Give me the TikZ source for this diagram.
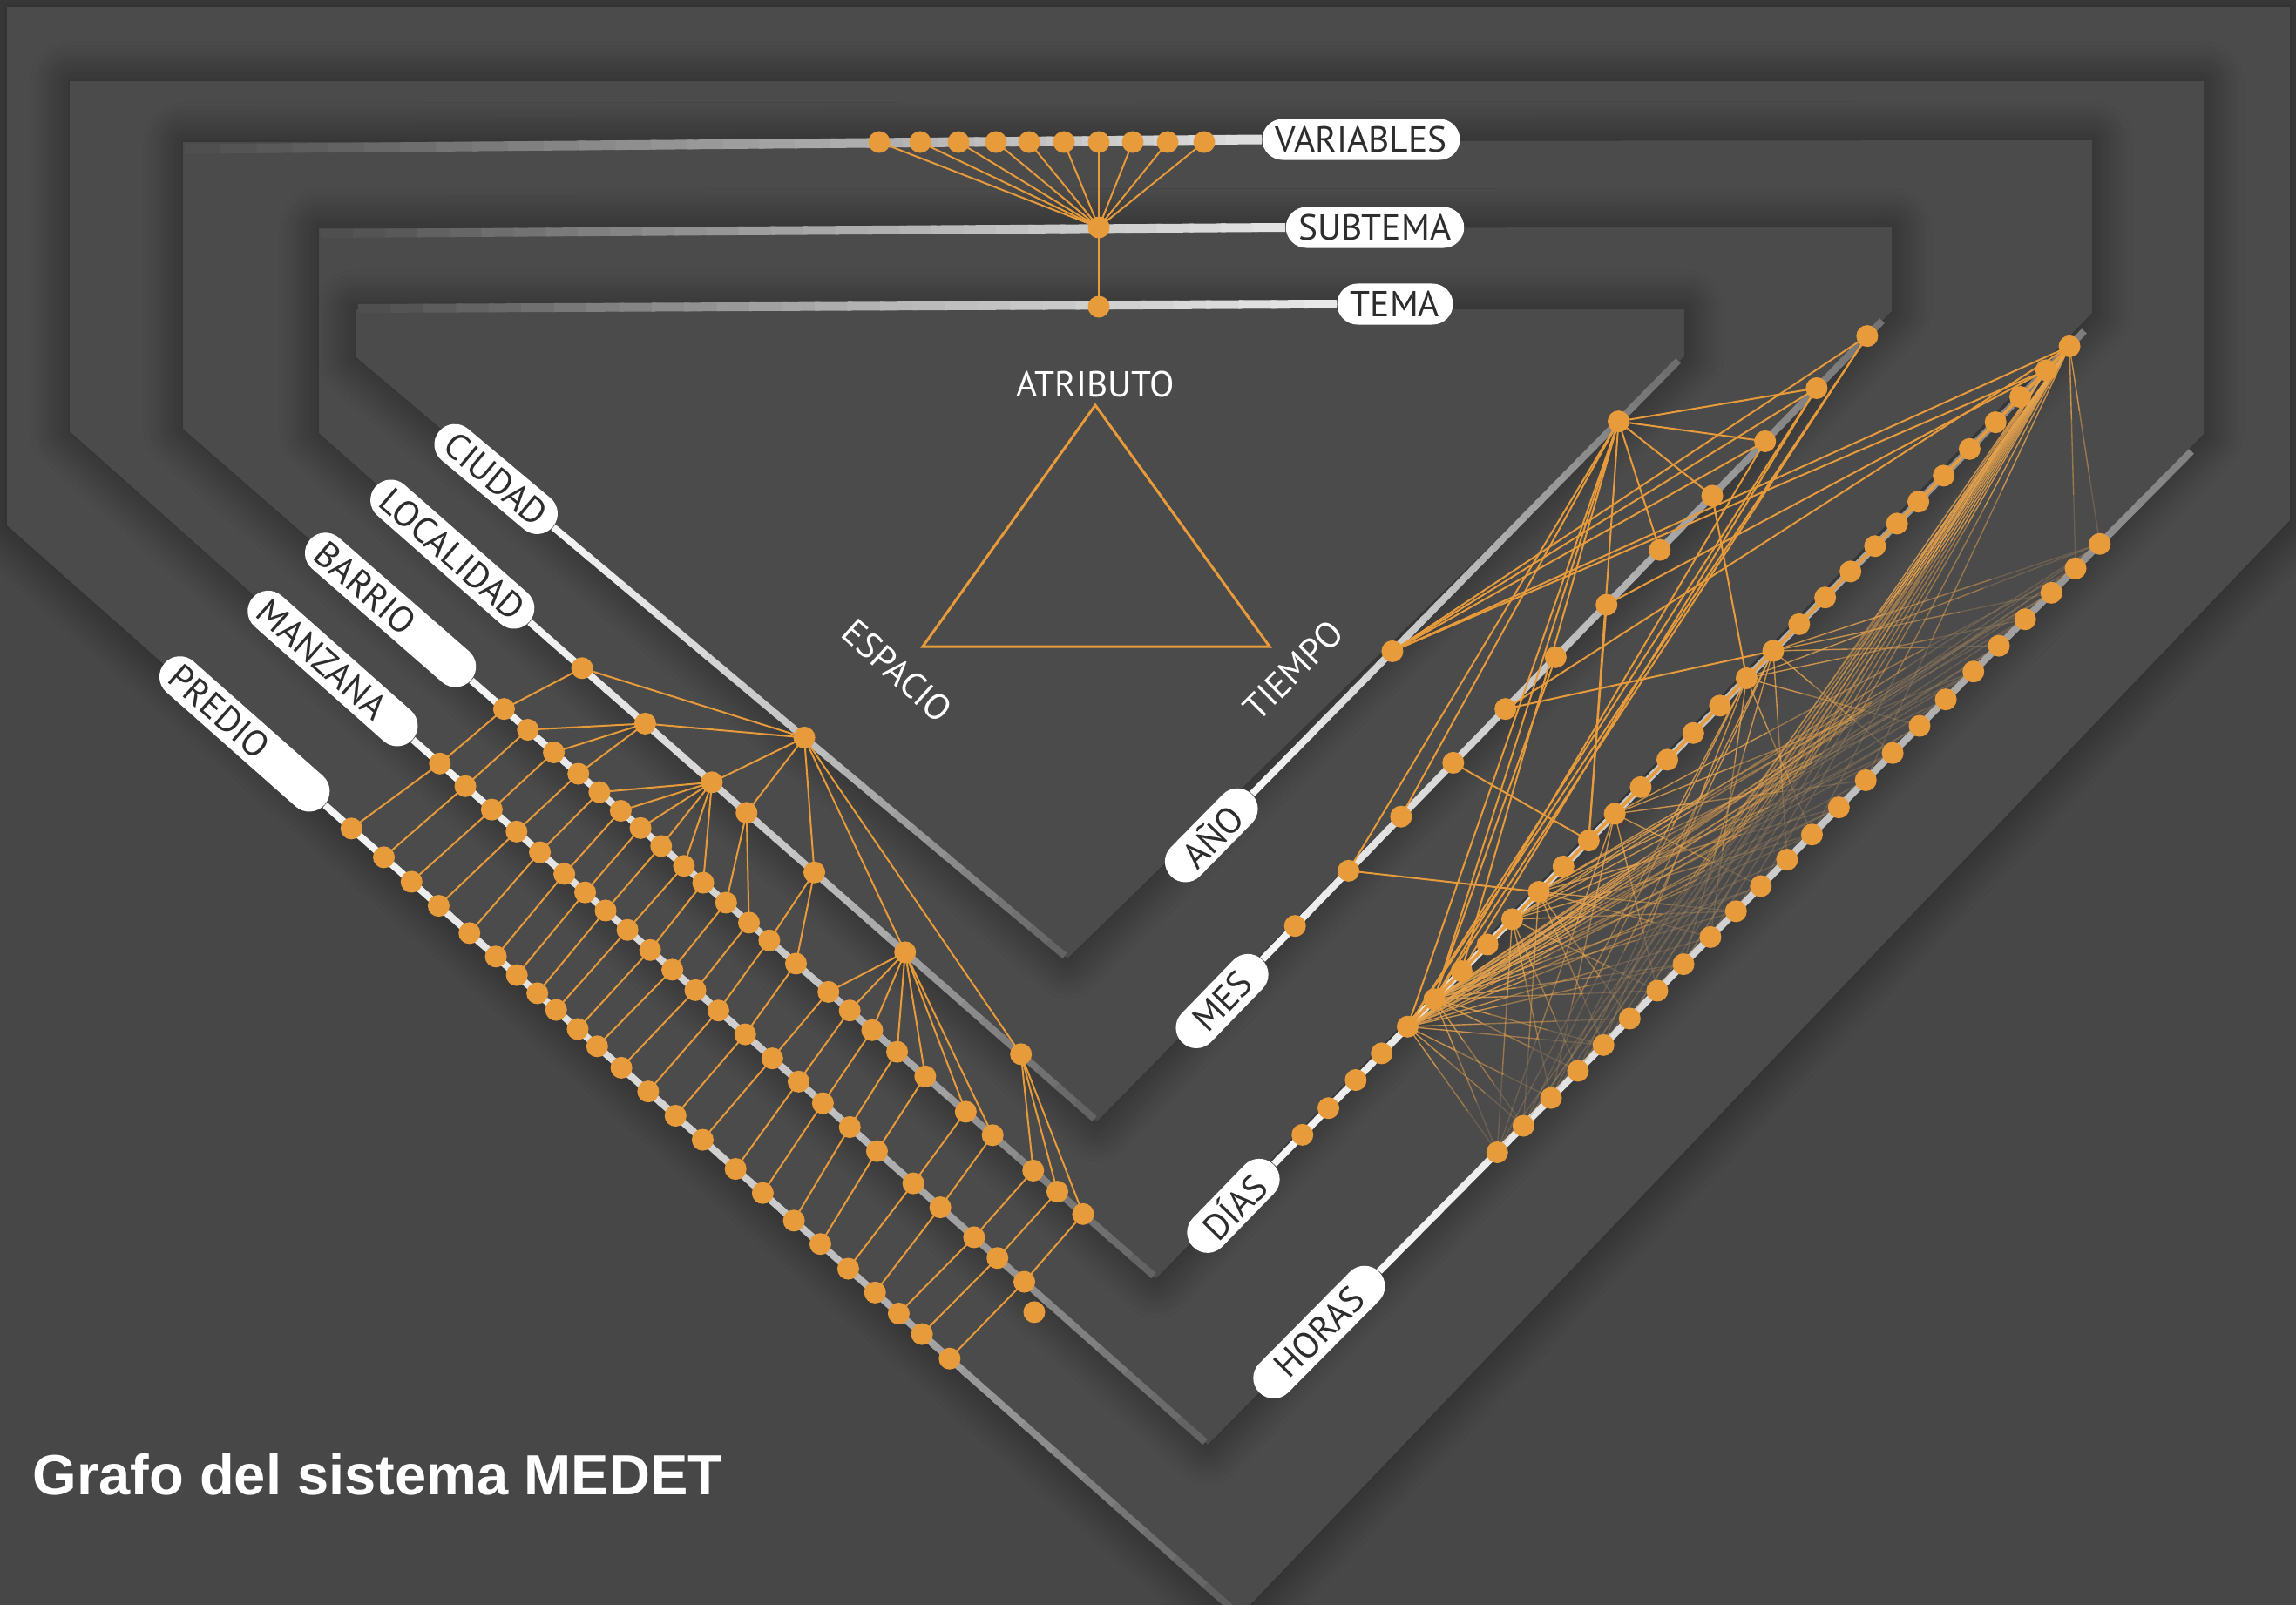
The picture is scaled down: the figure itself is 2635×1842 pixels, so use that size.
\documentclass[tikz,border=0pt]{standalone}
\usepackage{fontspec}
\setmainfont{PT Sans}
\newfontfamily\titlefont{Liberation Sans}
\usetikzlibrary{calc,shadows.blur}
\definecolor{bgc}{HTML}{474747}
\definecolor{shp}{HTML}{4B4B4B}
\definecolor{orng}{HTML}{E89B3B}
\definecolor{meshc}{HTML}{EBA64E}
\definecolor{lbl}{HTML}{2D2D2D}
\newcommand\lblfont{\fontsize{11.8}{13}\selectfont}
\newcommand\railseg[6]{%
  \foreach \k in {1,...,30}{%
    \pgfmathsetmacro\ta{(\k-1)/30}%
    \pgfmathsetmacro\tb{min(1,\k/30+0.005)}%
    \pgfmathsetmacro\tm{(\k-0.5)/30}%
    \pgfmathtruncatemacro\gg{\tm<0.5 ? #3+(#4-#3)*2*\tm : #4+(#5-#4)*(2*\tm-1)}%
    \draw[line width=#6, draw=white!\gg!black] ($(#1)!\ta!(#2)$) -- ($(#1)!\tb!(#2)$);
  }}
\newcommand\meshline[2]{%
  \draw[meshc, line width=0.014cm, opacity=0.8] (#1) -- ($(#1)!0.33!(#2)$);
  \draw[meshc, line width=0.014cm, opacity=0.5] ($(#1)!0.33!(#2)$) -- ($(#1)!0.67!(#2)$);
  \draw[meshc!60!gray, line width=0.014cm, opacity=0.28] ($(#1)!0.67!(#2)$) -- (#2);}
\begin{document}
\begin{tikzpicture}[x=0.01cm,y=-0.01cm,
  housebox/.style={fill=shp, blur shadow={shadow xshift=0pt,shadow yshift=0pt,shadow blur radius=0.45cm,shadow blur steps=12,shadow opacity=55}},
  pill/.style={fill=white, rounded corners=0.235cm, minimum height=0.47cm, inner ysep=0pt, inner xsep=0.15cm, text=lbl, font=\lblfont},
  conn/.style={draw=orng, line width=0.02cm},
  plain/.style={text=white, font=\lblfont, inner sep=0pt}]
\useasboundingbox (0,0) rectangle (2635,1842);
\fill[bgc] (0,0) rectangle (2635,1842);
% nested shapes
\path[housebox] (8,8) -- (2628,8) -- (2628,597) -- (1422,1855) -- (8,603) -- cycle;
\path[housebox] (80,93) -- (2529,93) -- (2529,498) -- (1386,1658) -- (80,495) -- cycle;
\path[housebox] (210,163) -- (2401,161) -- (2401,359) -- (1327,1467) -- (210,492) -- cycle;
\path[housebox] (366,262) -- (2171,261) -- (2171,357) -- (1259,1287) -- (366,497) -- cycle;
\path[housebox] (409,355) -- (1933,355) -- (1933,409) -- (1225,1100) -- (409,410) -- cycle;
% rail start points (pill ends) and rail end points
\coordinate (Cs) at (635,605); \coordinate (Ls) at (608,714); \coordinate (Bs) at (541,781);
\coordinate (Ms) at (474,849); \coordinate (Ps) at (373,924);
\coordinate (Ys) at (1437,911); \coordinate (Ns) at (1449,1101); \coordinate (Ds) at (1462,1336); \coordinate (Hs) at (1583,1459);
\coordinate (vr0) at (212,171); \coordinate (sr0) at (368,268); \coordinate (tr0) at (411,354);
\coordinate (Ce) at (1222,1097); \coordinate (Le) at (1256,1284); \coordinate (Be) at (1324,1464);
\coordinate (Me) at (1383,1655); \coordinate (Pe) at (1418,1850);
\coordinate (Ye) at (1926,414); \coordinate (Ne) at (2160,368); \coordinate (De) at (2392,380); \coordinate (He) at (2515,518);
% pills
\node[pill, rotate=-40.0, anchor=east] (pC) at (Cs) {CIUDAD};
\node[pill, rotate=-41.3, anchor=east] (pL) at (Ls) {LOCALIDAD};
\node[pill, rotate=-41.1, anchor=east, text width=2.15cm, align=left] (pB) at (Bs) {BARRIO};
\node[pill, rotate=-41.6, anchor=east, text width=2.15cm, align=left] (pM) at (Ms) {MANZANA};
\node[pill, rotate=-41.5, anchor=east, text width=2.15cm, align=left] (pP) at (Ps) {PREDIO};
\node[pill, rotate=45.5, anchor=east, minimum width=1.32cm] (pY) at (Ys) {AÑO};
\node[pill, rotate=45.9, anchor=east, minimum width=1.32cm] (pN) at (Ns) {MES};
\node[pill, rotate=45.8, anchor=east, minimum width=1.32cm] (pD) at (Ds) {DÍAS};
\node[pill, rotate=45.3, anchor=east, minimum width=1.95cm] (pH) at (Hs) {HORAS};
\node[pill, minimum width=2.24cm] (pV) at (1562,160) {VARIABLES};
\node[pill, minimum width=1.92cm] (pS) at (1578,261) {SUBTEMA};
\node[pill, minimum width=1.33cm] (pT) at (1601,349) {TEMA};
% rails
\railseg{vr0}{pV.west}{30}{62}{88}{0.11cm}
\railseg{sr0}{pS.west}{30}{66}{90}{0.10cm}
\railseg{tr0}{pT.west}{30}{70}{92}{0.10cm}
\railseg{Cs}{Ce}{97}{76}{38}{0.08cm}
\railseg{Ls}{Le}{97}{76}{38}{0.08cm}
\railseg{Bs}{Be}{97}{78}{38}{0.08cm}
\railseg{Ms}{Me}{97}{78}{38}{0.08cm}
\railseg{Ps}{Pe}{97}{80}{36}{0.08cm}
\railseg{Ys}{Ye}{97}{74}{42}{0.08cm}
\railseg{Ns}{Ne}{97}{76}{44}{0.08cm}
\railseg{Ds}{De}{97}{78}{48}{0.08cm}
\railseg{Hs}{He}{97}{80}{50}{0.08cm}
% top dots
\foreach \x [count=\i] in {1009,1056,1100,1143,1181,1221,1261,1300,1340,1382} \coordinate (V\i) at (\x,163);
\coordinate (ST) at (1261,261); \coordinate (TM) at (1261,352);
% left dots
\coordinate (C1) at ($(Cs)!({150+0.7653*1013},{400+0.7653*580})!(Ce)$);
\foreach \x/\y [count=\i] in {678/478,771/563,872/650,922/698,1024/787,1160/907,1338/1055}
  \coordinate (L\i) at ($(Ls)!({150+0.7653*\x},{400+0.7653*\y})!(Le)$);
\foreach \x/\y [count=\i] in {562/538,597/570,635/605,671/638,703/665,735/693,762/722,792/750,826/780,856/804,892/832,928/860,959/886,998/922,1047/964,1078/993,1113/1021,1149/1055,1192/1091,1251/1146,1288/1185,1355/1231,1390/1264,1429/1297}
  \coordinate (B\i) at ($(Bs)!({150+0.7653*\x},{400+0.7653*\y})!(Be)$);
\foreach \x/\y [count=\i] in {463/623,503/655,541/692,578/725,614/755,651/787,682/815,712/843,744/873,779/902,811/933,847/962,882/992,922/1028,960/1067,1001/1100,1037/1133,1078/1168,1118/1205,1171/1255,1215/1287,1262/1336,1299/1365,1338/1402}
  \coordinate (M\i) at ($(Ms)!({150+0.7653*\x},{400+0.7653*\y})!(Me)$);
\foreach \x/\y [count=\i] in {337/713,384/758,427/793,466/831,513/871,551/908,585/933,615/961,645/984,677/1013,707/1038,739/1075,778/1112,822/1145,861/1183,911/1226,951/1263,998/1304,1036/1341,1076/1380,1116/1416,1152/1447,1185/1480}
  \coordinate (P\i) at ($(Ps)!({150+0.7653*\x},{400+0.7653*\y})!(Pe)$);
\coordinate (Pend) at ($(Ps)!({150+0.7653*1228},{400+0.7653*1515})!(Pe)$);
\coordinate (Mx) at ({150+0.7653*1355},{400+0.7653*1445});
% right dots
\foreach \x/\y [count=\i] in {388/518,727/173}
  \coordinate (Y\i) at ($(Ys)!({1300+0.7653*\x},{350+0.7653*\y})!(Ye)$);
\foreach \x/\y [count=\i] in {240/928,320/845,400/765,477/683,557/604,632/526,709/448,789/366,868/285,948/204,1025/124,1101/46}
  \coordinate (N\i) at ($(Ns)!({1300+0.7653*\x},{350+0.7653*\y})!(Ne)$);
\foreach \x [count=\i] in {253,292,333,372,411,451,492,531,568,608,645,683,722,761,801,840,880,920,960,999,1038,1076,1113,1146,1178,1216,1255,1294,1331,1370,1405}
  \coordinate (D\i) at ($(Ds)!({1300+0.7653*\x},{350+0.7653*(1243-(\x-253)*1.0252)})!(De)$);
\foreach \x [count=\i] in {554,593,634,674,712,751,792,831,871,909,946,985,1022,1062,1102,1142,1182,1221,1262,1300,1339,1378,1414,1450}
  \coordinate (H\i) at ($(Hs)!({1300+0.7653*\x},{350+0.7653*(1278-(\x-554)*1.0268)})!(He)$);
% top connections
\foreach \i in {1,...,10} \draw[conn] (V\i) -- (ST);
\draw[conn] (ST) -- (TM);
% left connections
\foreach \i in {1,...,7} \draw[conn] (C1) -- (L\i);
\foreach \a/\b in {1/1,2/2,2/3,2/4,3/5,3/6,3/7,3/8,3/9,3/10,4/11,4/12,5/13,5/14,6/15,6/16,6/17,6/18,6/19,6/20,6/21,7/22,7/23,7/24} \draw[conn] (L\a) -- (B\b);
\foreach \i in {1,...,24} \draw[conn] (M\i) -- (B\i);
\foreach \i in {1,...,23} \draw[conn] (P\i) -- (M\i);
\draw[conn] (Pend) -- (M24);
% right mesh (faded)
\foreach \h/\js in {D5/{1,2,3,5,6,8,9,11,12,14,15,17,18,20,21,23,24},D6/{1,2,4,5,7,8,10,11,13,14,16,17,19,20,22,23},D9/{1,3,4,7,10,13,16,19,22,24},D10/{2,5,6,9,10,14,18,21,22},D13/{1,3,7,11,15,19,23},D18/{1,2,5,9,13,17,21,24},D19/{3,4,8,12,16,20,22,24}}
  \foreach \j in \js {\meshline{\h}{H\j}}
\foreach \j in {1,2,3,4,5,6,7,8,9,10,11,13,15,23,24} {\meshline{D31}{H\j}}
\foreach \j in {2,4,6,8} {\meshline{D30}{H\j}}
\meshline{D18}{D5}\meshline{D19}{D6}\meshline{D19}{D10}\meshline{D18}{D9}
% right strong connections
\foreach \a/\b in {Y1/N10,Y1/N11,Y1/N12,Y1/D30,Y1/D31,Y2/N8,Y2/N9,Y2/N10,Y2/N11,Y2/N2,Y2/N3,Y2/D5,Y2/D6,Y2/D7,Y2/D12,N2/D10,N4/D12,N5/D19,N5/D31,N6/D6,N7/D30,N7/D12,N9/D18,N10/D6,N11/D5,N11/D7,N12/D5,N12/D6,D31/D9,D31/D10,D31/D13,D30/D5,D29/D5,D31/D7}
  \draw[conn] (\a) -- (\b);
\draw[orng, line width=0.035cm] (D31) -- (D5);
\draw[orng, line width=0.03cm] (D31) -- (D6);
\draw[orng, line width=0.025cm] (D30) -- (D6);
% dots
\foreach \n in {C1,Mx,ST,TM,Pend} \fill[orng] (\n) circle[radius=0.125cm];
\foreach \i in {1,...,10} \fill[orng] (V\i) circle[radius=0.125cm];
\foreach \i in {1,...,7} \fill[orng] (L\i) circle[radius=0.125cm];
\foreach \i in {1,...,24} {\fill[orng] (B\i) circle[radius=0.125cm]; \fill[orng] (M\i) circle[radius=0.125cm]; \fill[orng] (H\i) circle[radius=0.125cm];}
\foreach \i in {1,...,23} \fill[orng] (P\i) circle[radius=0.125cm];
\foreach \i in {1,2} \fill[orng] (Y\i) circle[radius=0.125cm];
\foreach \i in {1,...,12} \fill[orng] (N\i) circle[radius=0.125cm];
\foreach \i in {1,...,31} \fill[orng] (D\i) circle[radius=0.125cm];
% triangle and labels
\coordinate (ta) at (1257,465); \coordinate (tb) at (1059,742); \coordinate (tc) at (1457,742);
\draw[orng, line width=0.03cm] (ta) -- (tb) -- (tc) -- cycle;
\node[plain] (atr) at (1257,441) {ATRIBUTO};
\node[plain, rotate=-42] (esp) at (1030,770) {ESPACIO};
\node[plain, rotate=45] (tie) at (1484,769) {TIEMPO};
\node[anchor=base west, text=white, inner sep=0pt, font=\titlefont\bfseries\fontsize{18.5}{20}\selectfont] (title) at (37,1715) {Grafo del sistema MEDET};
\end{tikzpicture}
\end{document}
